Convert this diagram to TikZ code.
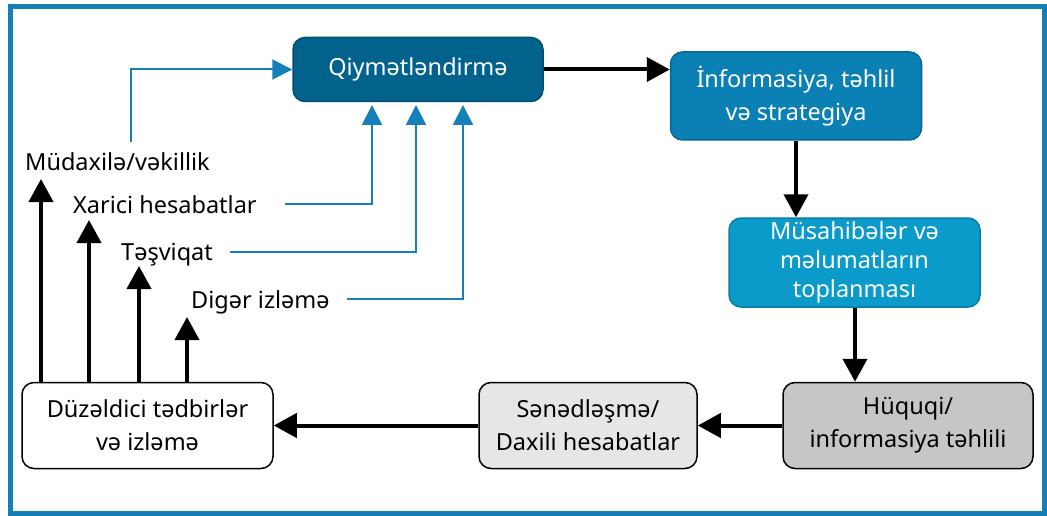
\documentclass[tikz,border=0pt]{standalone}
\usepackage{fontspec}
\setmainfont{Noto Sans}
\usetikzlibrary{arrows.meta}
\definecolor{frameblue}{HTML}{157EB5}
\definecolor{qblue}{HTML}{03628C}
\definecolor{iblue}{HTML}{0A80B4}
\definecolor{mblue}{HTML}{0B9BCB}
\definecolor{lineblue}{HTML}{1580BA}
\definecolor{dgray}{HTML}{C6C6C6}
\definecolor{lgray}{HTML}{E6E6E6}
\tikzset{
  box/.style={rounded corners=12pt, draw, line width=1.5pt, align=center, inner sep=0pt,
    font=\fontsize{23.5}{33}\selectfont},
  lbl/.style={anchor=base west, inner sep=0pt, font=\fontsize{23.5}{33}\selectfont},
  blkarr/.style={line width=4pt, -{Triangle[length=23pt,width=24pt]}},
  bluarr/.style={draw=lineblue, line width=2pt, -{Triangle[length=20pt,width=20pt]}}
}
\begin{document}
\begin{tikzpicture}[x=1pt,y=-1pt]
\useasboundingbox (0,0) rectangle (1047,516);
\draw[frameblue, line width=5pt] (10,7) rectangle (1044,513);

\node[box, fill=qblue, draw=qblue!80!black, text=white, minimum width=250pt, minimum height=64pt] (qiy) at (418,69.5) {Qiymətləndirmə};
\node[box, fill=iblue, draw=iblue!80!black, text=white, minimum width=251pt, minimum height=88pt] (inf) at (796,96) {İnformasiya, təhlil\\və strategiya};
\node[box, fill=mblue, draw=mblue!80!black, text=white, minimum width=251pt, minimum height=89pt, font=\fontsize{23.5}{29}\selectfont] (mus) at (854.5,262.5) {Müsahibələr və\\məlumatların\\toplanması};
\node[box, fill=dgray, minimum width=250pt, minimum height=86pt] (huq) at (908,425.5) {Hüquqi/\\informasiya təhlili};
\node[box, fill=lgray, minimum width=218pt, minimum height=86pt] (sen) at (588,425.5) {Sənədləşmə/\\Daxili hesabatlar};
\node[box, fill=white, minimum width=251pt, minimum height=86pt] (duz) at (147.5,425.5) {Düzəldici tədbirlər\\və izləmə};

\node[lbl] (mud) at (25,171) {Müdaxilə/vəkillik};
\node[lbl] (xar) at (73,213) {Xarici hesabatlar};
\node[lbl] (tes) at (121,260) {Təşviqat};
\node[lbl] (dig) at (191,308) {Digər izləmə};

% black flow
\draw[blkarr] (qiy.east) -- (inf.west |- qiy.east);
\draw[blkarr] (inf.south) -- (inf.south |- mus.north);
\coordinate (mh) at (855,0);
\draw[blkarr] (mus.south -| mh) -- (huq.north -| mh);
\draw[blkarr] (huq.west) -- (sen.east);
\draw[blkarr] (sen.west) -- (duz.east);

% up arrows from Duzeldici
\coordinate (t1) at (41,179);
\coordinate (t2) at (89,220);
\coordinate (t3) at (139,266);
\coordinate (t4) at (187,317);
\foreach \t in {t1,t2,t3,t4} \draw[blkarr] (duz.north -| \t) -- (\t);

% blue arrows into Qiymetlendirme
\coordinate (m0) at (131,142);
\draw[bluarr] (m0) |- (qiy.west);
\coordinate (x0) at (285,204);
\coordinate (q1) at (372,105);
\draw[bluarr] (x0) -| (q1);
\coordinate (s0) at (230,252);
\coordinate (q2) at (416,105);
\draw[bluarr] (s0) -| (q2);
\coordinate (d0) at (347,299);
\coordinate (q3) at (463,105);
\draw[bluarr] (d0) -| (q3);
\end{tikzpicture}
\end{document}
